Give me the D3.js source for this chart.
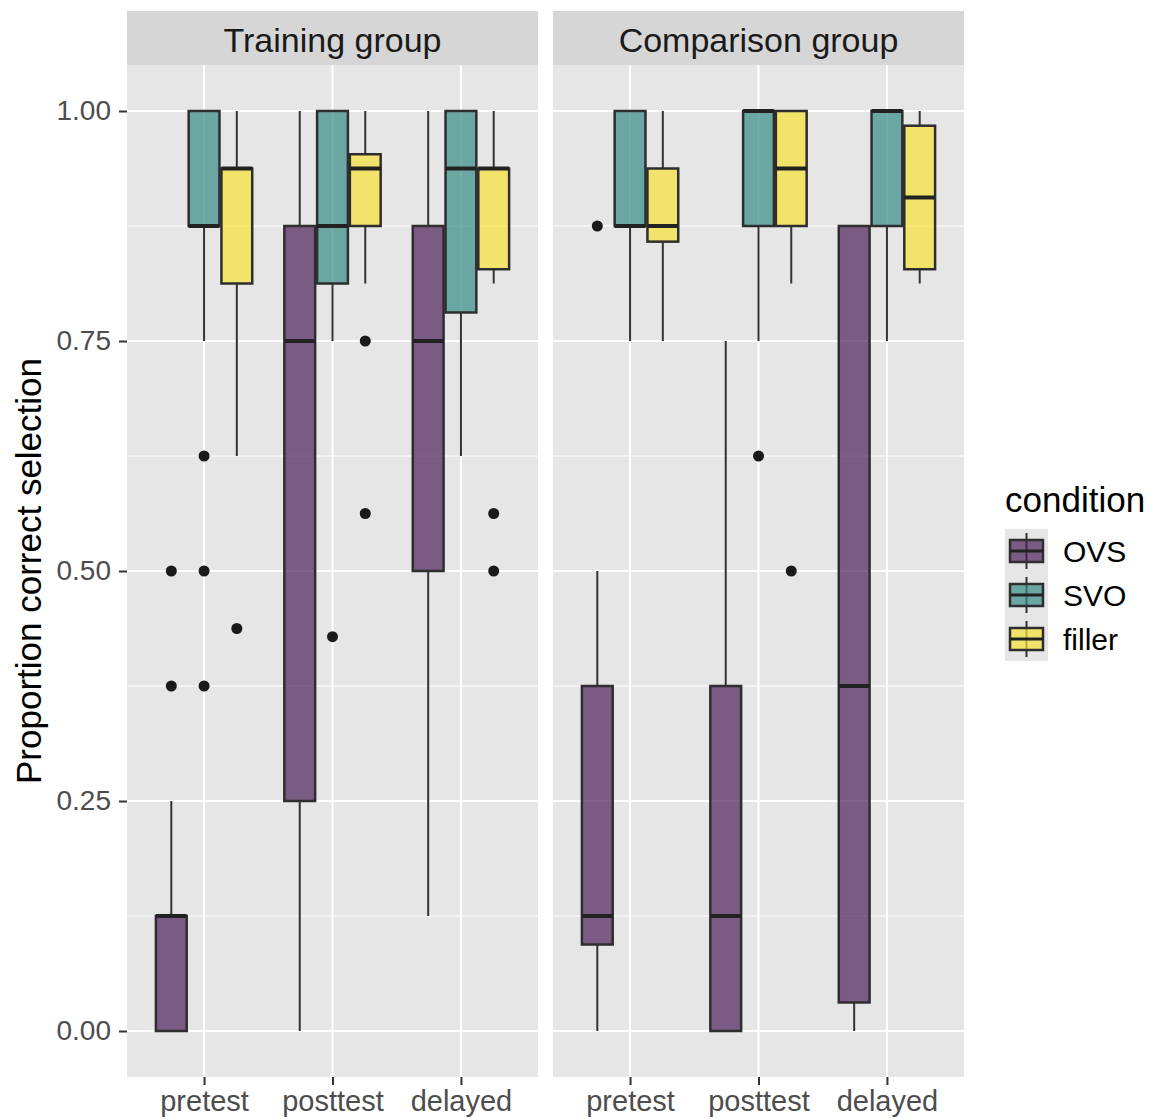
<!DOCTYPE html>
<html>
<head>
<meta charset="utf-8">
<script src="https://cdn.jsdelivr.net/npm/d3@7"></script>
<style>
body { margin: 0; background: #fff; }
text { font-family: "Liberation Sans", Arial, Helvetica, sans-serif; }
</style>
</head>
<body>
<div id="chart"></div>
<script>
var groups = ["Training group", "Comparison group"];
var times = ["pretest", "posttest", "delayed"];
var conditions = ["OVS", "SVO", "filler"];
var conditionColors = ["#4b1f58", "#348b86", "#f6e234"];

// [lower whisker, q1, median, q3, upper whisker] - rows go time by condition
var trainingStats = [
    [0, 0, 0.125, 0.125, 0.25],
    [0.75, 0.875, 0.875, 1, 1],
    [0.625, 0.8125, 0.9375, 0.9375, 1],
    [0, 0.25, 0.75, 0.875, 1],
    [0.75, 0.8125, 0.875, 1, 1],
    [0.8125, 0.875, 0.9375, 0.953, 1],
    [0.125, 0.5, 0.75, 0.875, 1],
    [0.625, 0.781, 0.9375, 1, 1],
    [0.8125, 0.828, 0.9375, 0.9375, 1]
];
var comparisonStats = [
    [0, 0.094, 0.125, 0.375, 0.5],
    [0.75, 0.875, 0.875, 1, 1],
    [0.75, 0.858, 0.875, 0.9375, 1],
    [0, 0, 0.125, 0.375, 0.75],
    [0.75, 0.875, 1, 1, 1],
    [0.8125, 0.875, 0.9375, 1, 1],
    [0, 0.031, 0.375, 0.875, 0.875],
    [0.75, 0.875, 1, 1, 1],
    [0.8125, 0.828, 0.906, 0.984, 1]
];

// [time, condition, value]
var trainingOutliers = [
    ["pretest", "OVS", 0.5], ["pretest", "OVS", 0.375],
    ["pretest", "SVO", 0.625], ["pretest", "SVO", 0.5], ["pretest", "SVO", 0.375],
    ["pretest", "filler", 0.4375],
    ["posttest", "SVO", 0.4286],
    ["posttest", "filler", 0.75], ["posttest", "filler", 0.5625],
    ["delayed", "filler", 0.5625], ["delayed", "filler", 0.5]
];
var comparisonOutliers = [
    ["pretest", "OVS", 0.875],
    ["posttest", "SVO", 0.625],
    ["posttest", "filler", 0.5]
];

var yTicks = [0, 0.25, 0.5, 0.75, 1];
var yMinorTicks = [0.125, 0.375, 0.625, 0.875];

var svgWidth = 1153;
var svgHeight = 1119;
var panelLeft = 127;
var panelWidth = 411;
var panelGap = 15;
var stripTop = 11;
var panelTop = 65;
var panelBottom = 1077;

var svg = d3.select("#chart")
    .append("svg")
    .attr("width", svgWidth)
    .attr("height", svgHeight);

var y = d3.scaleLinear()
    .domain([-0.05, 1.05])
    .range([panelBottom, panelTop]);

var color = d3.scaleOrdinal().domain(conditions).range(conditionColors);

function boxRows(stats) {
    var rows = [];
    times.forEach(function(t, i) {
        conditions.forEach(function(c, j) {
            var s = stats[i * conditions.length + j];
            rows.push({time: t, cond: c, lo: s[0], q1: s[1], med: s[2], q3: s[3], hi: s[4]});
        });
    });
    return rows;
}

var panelData = [
    {name: groups[0], boxes: boxRows(trainingStats), outliers: trainingOutliers},
    {name: groups[1], boxes: boxRows(comparisonStats), outliers: comparisonOutliers}
];

panelData.forEach(function(p, k) {
    var x0 = panelLeft + k * (panelWidth + panelGap);
    var x = d3.scalePoint()
        .domain(times)
        .range([x0, x0 + panelWidth])
        .padding(0.6);
    var step = x.step();
    var dodge = d3.scaleBand()
        .domain(conditions)
        .range([-0.375 * step, 0.375 * step])
        .paddingInner(0.06);

    // strip
    svg.append("rect")
        .attr("x", x0).attr("y", stripTop)
        .attr("width", panelWidth).attr("height", panelTop - stripTop)
        .attr("fill", "#d6d6d6");
    svg.append("text")
        .attr("x", x0 + panelWidth / 2)
        .attr("y", 52)
        .attr("text-anchor", "middle")
        .attr("font-size", 34)
        .attr("fill", "#1a1a1a")
        .text(p.name);

    // panel background + grid
    svg.append("rect")
        .attr("x", x0).attr("y", panelTop)
        .attr("width", panelWidth).attr("height", panelBottom - panelTop)
        .attr("fill", "#e6e6e6");

    var g = svg.append("g");
    g.selectAll(".minor")
        .data(yMinorTicks)
        .enter()
        .append("line")
        .attr("x1", x0).attr("x2", x0 + panelWidth)
        .attr("y1", d => y(d)).attr("y2", d => y(d))
        .attr("stroke", "#fff").attr("stroke-width", 1);
    g.selectAll(".major")
        .data(yTicks)
        .enter()
        .append("line")
        .attr("x1", x0).attr("x2", x0 + panelWidth)
        .attr("y1", d => y(d)).attr("y2", d => y(d))
        .attr("stroke", "#fff").attr("stroke-width", 2);
    g.selectAll(".vgrid")
        .data(times)
        .enter()
        .append("line")
        .attr("x1", d => x(d)).attr("x2", d => x(d))
        .attr("y1", panelTop).attr("y2", panelBottom)
        .attr("stroke", "#fff").attr("stroke-width", 2);

    // boxes
    var boxes = g.selectAll(".box")
        .data(p.boxes)
        .enter()
        .append("g");

    function cx(d) { return x(d.time) + dodge(d.cond) + dodge.bandwidth() / 2; }

    boxes.append("line")
        .attr("x1", cx).attr("x2", cx)
        .attr("y1", d => y(d.q3)).attr("y2", d => y(d.hi))
        .attr("stroke", "#333").attr("stroke-width", 2);
    boxes.append("line")
        .attr("x1", cx).attr("x2", cx)
        .attr("y1", d => y(d.q1)).attr("y2", d => y(d.lo))
        .attr("stroke", "#333").attr("stroke-width", 2);
    boxes.append("rect")
        .attr("x", d => x(d.time) + dodge(d.cond))
        .attr("y", d => y(d.q3))
        .attr("width", dodge.bandwidth())
        .attr("height", d => y(d.q1) - y(d.q3))
        .attr("fill", d => color(d.cond))
        .attr("fill-opacity", 0.7)
        .attr("stroke", "#2e2e2e")
        .attr("stroke-width", 2.5);
    boxes.append("line")
        .attr("x1", d => x(d.time) + dodge(d.cond))
        .attr("x2", d => x(d.time) + dodge(d.cond) + dodge.bandwidth())
        .attr("y1", d => y(d.med)).attr("y2", d => y(d.med))
        .attr("stroke", "#222").attr("stroke-width", 4);

    g.selectAll(".outlier")
        .data(p.outliers)
        .enter()
        .append("circle")
        .attr("cx", d => x(d[0]) + dodge(d[1]) + dodge.bandwidth() / 2)
        .attr("cy", d => y(d[2]))
        .attr("r", 5.5)
        .attr("fill", "#1a1a1a");

    // bottom axis
    var xAxis = svg.append("g")
        .attr("transform", `translate(0, ${panelBottom})`)
        .call(d3.axisBottom(x).tickSize(8).tickPadding(5));
    xAxis.select(".domain").remove();
    xAxis.selectAll("line").attr("stroke", "#333").attr("stroke-width", 2);
    xAxis.selectAll("text")
        .attr("font-size", 29)
        .attr("fill", "#4d4d4d")
        .attr("font-family", "Liberation Sans, Arial, sans-serif");
});

// left axis
var yAxis = svg.append("g")
    .attr("transform", `translate(${panelLeft}, 0)`)
    .call(d3.axisLeft(y).tickValues(yTicks).tickFormat(d3.format(".2f")).tickSize(8).tickPadding(8));
yAxis.select(".domain").remove();
yAxis.selectAll("line").attr("stroke", "#333").attr("stroke-width", 2);
yAxis.selectAll("text")
    .attr("font-size", 28)
    .attr("fill", "#4d4d4d")
    .attr("font-family", "Liberation Sans, Arial, sans-serif");

svg.append("text")
    .attr("transform", `translate(41, ${(panelTop + panelBottom) / 2}) rotate(-90)`)
    .attr("text-anchor", "middle")
    .attr("font-size", 35)
    .attr("fill", "#000")
    .text("Proportion correct selection");

// legend
var legend = svg.append("g").attr("transform", "translate(1005, 0)");
legend.append("text")
    .attr("x", 0).attr("y", 512)
    .attr("font-size", 35)
    .attr("fill", "#000")
    .text("condition");

var keys = legend.selectAll(".key")
    .data(conditions)
    .enter()
    .append("g")
    .attr("transform", (d, i) => `translate(0, ${529 + i * 44})`);
keys.append("rect")
    .attr("width", 43).attr("height", 44)
    .attr("fill", "#e6e6e6");
keys.append("line")
    .attr("x1", 21.5).attr("x2", 21.5)
    .attr("y1", 4).attr("y2", 40)
    .attr("stroke", "#333").attr("stroke-width", 2);
keys.append("rect")
    .attr("x", 5).attr("y", 11)
    .attr("width", 33).attr("height", 22)
    .attr("fill", d => color(d))
    .attr("fill-opacity", 0.7)
    .attr("stroke", "#2e2e2e").attr("stroke-width", 2.5);
keys.append("line")
    .attr("x1", 5).attr("x2", 38)
    .attr("y1", 22).attr("y2", 22)
    .attr("stroke", "#222").attr("stroke-width", 3);
keys.append("text")
    .attr("x", 58).attr("y", 33)
    .attr("font-size", 30)
    .attr("fill", "#000")
    .text(d => d);
</script>
</body>
</html>
